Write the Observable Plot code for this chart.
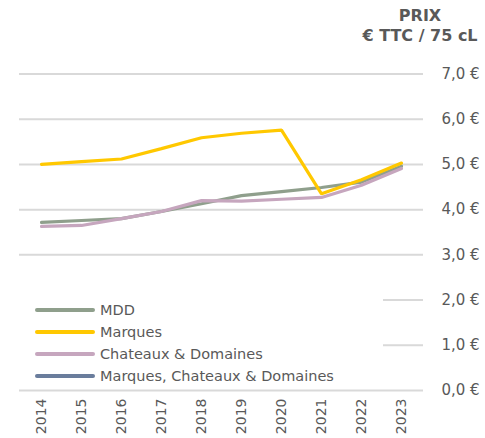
<!DOCTYPE html>
<html>
<head>
<meta charset="utf-8">
<script src="https://cdn.jsdelivr.net/npm/d3@7"></script>
<script src="https://cdn.jsdelivr.net/npm/@observablehq/plot@0.6"></script>
<style>
  html, body { margin: 0; padding: 0; background: #fff; }
  #wrap { position: relative; width: 485px; height: 438px; font-family: "DejaVu Sans", sans-serif; color: #595959; }
  #title { position: absolute; left: 340px; width: 160px; top: 6px; text-align: center; font-weight: bold; font-size: 16px; line-height: 20px; color: #595959; }
  #legend { position: absolute; left: 0; top: 283px; width: 383px; height: 103px; background: #fff; }
  .item { position: absolute; left: 35px; height: 20px; display: flex; align-items: center; font-size: 14.5px; color: #595959; white-space: nowrap; }
  .sw { width: 60px; height: 4px; border-radius: 2px; margin-right: 5px; }
</style>
</head>
<body>
<div id="wrap">
  <div id="chart"></div>
  <div id="title">PRIX<br>€ TTC / 75 cL</div>
  <div id="legend"></div>
</div>
<script>
const years = ["2014","2015","2016","2017","2018","2019","2020","2021","2022","2023"];
const seriesNames = ["MDD", "Marques", "Chateaux & Domaines", "Marques, Chateaux & Domaines"];
const mdd      = [3.72, 3.76, 3.80, 3.96, 4.13, 4.31, 4.40, 4.49, 4.61, 4.96];
const marques  = [5.00, 5.06, 5.12, 5.35, 5.59, 5.69, 5.76, 4.35, 4.66, 5.03];
const chateaux = [3.63, 3.65, 3.80, 3.96, 4.20, 4.19, 4.23, 4.27, 4.54, 4.91];
const mcd      = []; // not drawn in the reference (legend only)
const yTicks = [0, 1, 2, 3, 4, 5, 6, 7];
const colors = ["#8f9f8c", "#ffc800", "#c6a6be", "#6a7d9c"];

const valuesBySeries = [mdd, marques, chateaux, mcd];
const rows = [];
// draw order: MDD, Chateaux, Marques on top
[0, 2, 1, 3].forEach(si => {
  valuesBySeries[si].forEach((v, i) => rows.push({series: seriesNames[si], year: years[i], value: v}));
});

const chart = Plot.plot({
  width: 485,
  height: 438,
  marginTop: 73.5,
  marginBottom: 48,
  marginLeft: 19,
  marginRight: 62,
  style: {fontFamily: "DejaVu Sans, sans-serif", color: "#595959", background: "transparent"},
  x: {type: "point", domain: years, padding: 0.5},
  y: {domain: [0, 7]},
  color: {domain: seriesNames, range: colors},
  marks: [
    Plot.ruleY(yTicks, {stroke: "#d9d9d9", strokeWidth: 2}),
    Plot.axisY({anchor: "right", ticks: yTicks, tickSize: 0, tickPadding: 18, textAnchor: "start",
      tickFormat: d => d.toFixed(1).replace(".", ",") + " €", fontSize: 15, label: null, fill: "#595959"}),
    Plot.axisX({tickRotate: -90, tickSize: 0, tickPadding: 8, fontSize: 14, label: null, fill: "#595959"}),
    Plot.line(rows, {x: "year", y: "value", z: "series", stroke: "series", strokeWidth: 3.2, strokeLinejoin: "miter"})
  ]
});
document.getElementById("chart").appendChild(chart);

const legend = document.getElementById("legend");
const rowCenters = [27, 49, 70.5, 93];
seriesNames.forEach((name, i) => {
  const it = document.createElement("div");
  it.className = "item";
  it.style.top = (rowCenters[i] - 10) + "px";
  const sw = document.createElement("div");
  sw.className = "sw";
  sw.style.background = colors[i];
  it.appendChild(sw);
  it.appendChild(document.createTextNode(name));
  legend.appendChild(it);
});
</script>
</body>
</html>
